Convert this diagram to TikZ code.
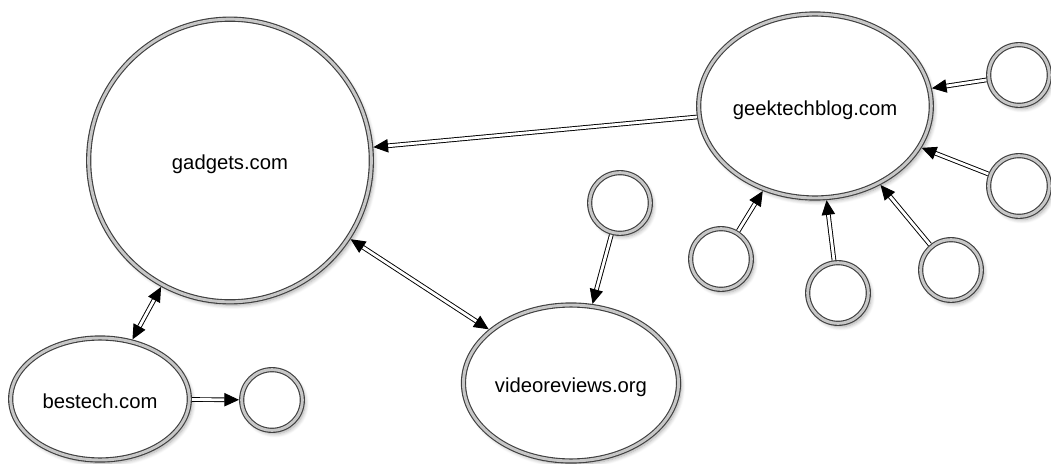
\documentclass[tikz,border=0pt]{standalone}
\usepackage{fontspec}
\setmainfont{Liberation Sans}
\usetikzlibrary{shapes.geometric,arrows.meta,shadows.blur}
\begin{document}
\begin{tikzpicture}[x=0.75pt,y=-0.75pt,
  site/.style={draw=black!75, line width=0.85pt, double=black!22,
    double distance=2.2pt, fill=white, outer sep=2pt, inner sep=0pt,
    font=\fontsize{15.2}{18}\selectfont, text height=13.5pt, text depth=0pt,
    blur shadow={shadow xshift=2pt, shadow yshift=-2.5pt,
      shadow blur steps=8, shadow blur radius=3pt, shadow opacity=35}},
  big/.style={site, circle, minimum size=#1},
  oval/.style={site, ellipse, minimum width=#1},
  dot/.style={site, circle, minimum size=45.5pt},
  >={Triangle[length=11pt,width=10pt]},
  link/.style={draw=black, line width=0.7pt, double=white,
    double distance=2.1pt, ->},
  link2/.style={link, <->}
]
\useasboundingbox (0,0) rectangle (1051,464);

% main sites
\node[big=212pt] (gadgets) at (230,160.5) {gadgets.com};
\node[oval=134pt, minimum height=91.5pt] (bestech) at (100,399) {bestech.com};
\node[oval=154pt, minimum height=117pt] (video) at (571,383) {videoreviews.org};
\node[oval=168pt, minimum height=138pt] (geek) at (815,106) {geektechblog.com};

% unnamed pages
\node[dot] (b1) at (272,400) {};
\node[dot] (v1) at (620,203) {};
\node[dot] (g1) at (1019,75) {};
\node[dot] (g2) at (1019,186) {};
\node[dot] (g3) at (951,270) {};
\node[dot] (g4) at (838,293) {};
\node[dot] (g5) at (721,259) {};

% links
\draw[link] (geek) -- (gadgets);
\draw[link2] (gadgets) -- (video);
\draw[link2] (gadgets) -- (bestech);
\draw[link] (bestech) -- (b1);
\draw[link] (v1) -- (video);
\foreach \n in {g1,g2,g3,g4,g5} \draw[link] (\n) -- (geek);
\end{tikzpicture}
\end{document}
